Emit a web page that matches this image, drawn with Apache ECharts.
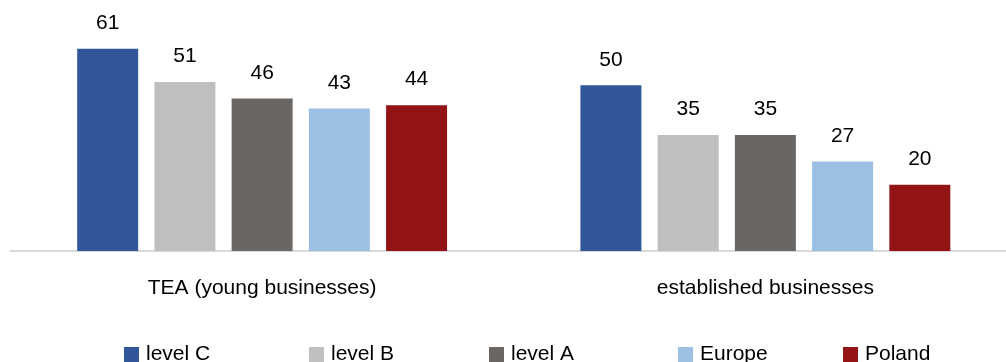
<!DOCTYPE html>
<html>
<head>
<meta charset="utf-8">
<script src="https://cdn.jsdelivr.net/npm/echarts@6/dist/echarts.min.js"></script>
<style>
html,body{margin:0;padding:0;background:#fff;overflow:hidden;width:1006px;height:362px;}
#chart{width:1017px;height:362px;}
</style>
</head>
<body>
<div id="chart"></div>
<script>
const categories = ["TEA (young businesses)", "established businesses"];
const seriesNames = ["level C", "level B", "level A", "Europe", "Poland"];
const levelC = [61, 50];
const levelB = [51, 35];
const levelA = [46, 35];
const europe = [43, 27];
const poland = [44, 20];
const seriesValues = [levelC, levelB, levelA, europe, poland];
const colors = ["#32569A", "#BFBFBF", "#6A6664", "#9BC0E4", "#921414"];
const legendLeft = [124, 309, 489, 678, 843];

const FONT = "Liberation Sans, Arial, sans-serif";
const chart = echarts.init(document.getElementById('chart'));

const series = seriesNames.map((name, i) => ({
  name: name,
  type: 'bar',
  data: seriesValues[i],
  barWidth: 61,
  barGap: '26.6%',
  itemStyle: { color: colors[i] },
  label: {
    show: true,
    position: 'top',
    distance: 15,
    color: '#000',
    fontSize: 21,
    fontFamily: FONT
  }
}));

const legends = seriesNames.map((name, i) => ({
  data: [name],
  left: legendLeft[i],
  top: 344,
  padding: 0,
  icon: 'rect',
  itemWidth: 15,
  itemHeight: 15,
  selectedMode: false,
  textStyle: { color: '#000', fontSize: 21, fontFamily: FONT, padding: [0, 0, 0, 2] }
}));

chart.setOption({
  animation: false,
  grid: { left: 10.5, top: 19, right: 0, bottom: 111, containLabel: false },
  legend: legends,
  xAxis: {
    type: 'category',
    data: categories,
    axisLine: { show: true, lineStyle: { color: '#D9D9D9', width: 2 } },
    axisTick: { show: false },
    axisLabel: { margin: 27, color: '#000', fontSize: 21, fontFamily: FONT }
  },
  yAxis: {
    type: 'value',
    min: 0,
    max: 70,
    show: false,
    splitLine: { show: false }
  },
  series: series
});
</script>
</body>
</html>
